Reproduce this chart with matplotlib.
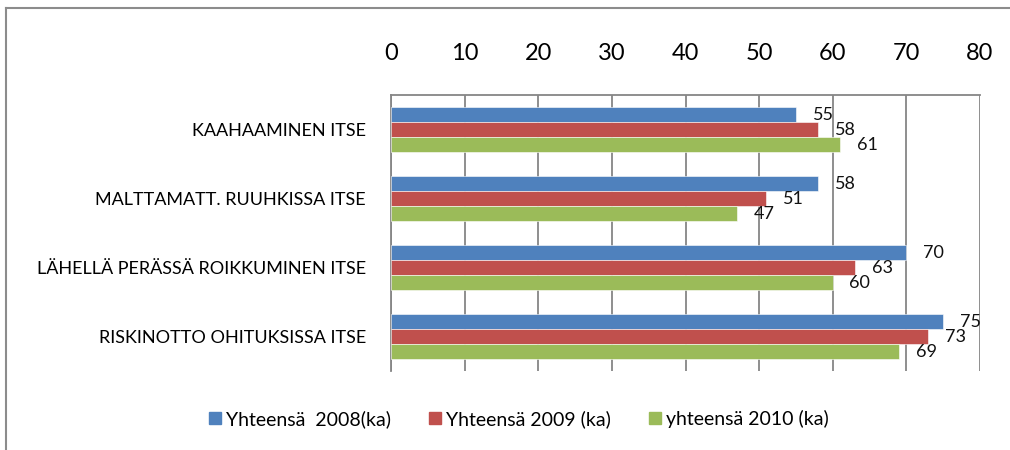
import numpy as np
import matplotlib.pyplot as plt
from matplotlib.lines import Line2D

plt.rcParams['font.family'] = ['Lato', 'DejaVu Sans']

# categories top to bottom
categories = ["KAAHAAMINEN ITSE", "MALTTAMATT. RUUHKISSA ITSE",
              "LÄHELLÄ PERÄSSÄ ROIKKUMINEN ITSE", "RISKINOTTO OHITUKSISSA ITSE"]
series_names = ["Yhteensä  2008(ka)", "Yhteensä 2009 (ka)", "yhteensä 2010 (ka)"]
vals_2008 = [55, 58, 70, 75]
vals_2009 = [58, 51, 63, 73]
vals_2010 = [61, 47, 60, 69]
x_ticks = [0, 10, 20, 30, 40, 50, 60, 70, 80]

colors = ["#4F81BD", "#C0504D", "#9BBB59"]
grid_col = "#868686"

W, H = 1010, 450
fig = plt.figure(figsize=(W / 100, H / 100), dpi=100)
ax = fig.add_axes([391 / W, 1 - 371 / H, (980 - 391) / W, (371 - 95) / H])

# outer chart frame (only left and top edges visible)
fig.add_artist(Line2D([6 / W, 6 / W], [0, 1 - 8 / H], transform=fig.transFigure,
                      color="#8c8c8c", lw=1.5))
fig.add_artist(Line2D([6 / W, 1], [1 - 8 / H, 1 - 8 / H], transform=fig.transFigure,
                      color="#8c8c8c", lw=1.5))

y = np.arange(len(categories))
bh = 0.217
all_vals = [vals_2008, vals_2009, vals_2010]
for i, (vals, col, name) in enumerate(zip(all_vals, colors, series_names)):
    pos = y + (i - 1) * bh
    ax.barh(pos, vals, height=bh, color=col, edgecolor="white", linewidth=0.4,
            label=name, zorder=3)
    for p, v in zip(pos, vals):
        ax.annotate(str(v), (v, p), xytext=(12, -0.5), textcoords="offset points",
                    ha="left", va="center", fontsize=13, color="#111111",
                    annotation_clip=False, zorder=4)

ax.set_ylim(len(categories) - 0.5, -0.5)
ax.set_xlim(0, 80)
ax.set_yticks(y)
ax.set_yticklabels(categories, fontsize=13)
ax.set_xticks(x_ticks)
ax.set_xticklabels([str(t) for t in x_ticks], fontsize=17)
ax.xaxis.tick_top()
ax.tick_params(axis="x", length=0, pad=22)
ax.tick_params(axis="y", length=0, pad=18)
ax.grid(axis="x", color=grid_col, lw=1.3, zorder=1)
ax.set_axisbelow(True)
for side in ["bottom", "right"]:
    ax.spines[side].set_visible(False)
for side in ["top", "left"]:
    ax.spines[side].set_color(grid_col)
    ax.spines[side].set_linewidth(1.3)

handles = [plt.Rectangle((0, 0), 1, 1, color=c) for c in colors]
fig.legend(handles, series_names, loc="center", bbox_to_anchor=(519 / W, 1 - 419 / H),
           ncol=3, frameon=False, fontsize=14, handlelength=0.62, handleheight=0.62,
           handletextpad=0.25, columnspacing=1.95)

fig.savefig("out.png", dpi=100)
